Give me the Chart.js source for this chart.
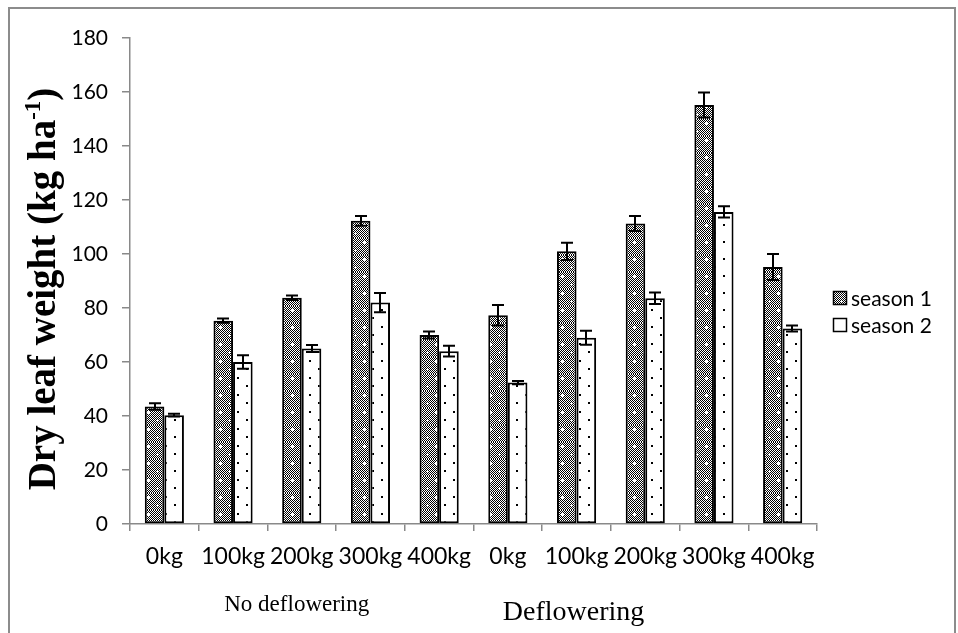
<!DOCTYPE html>
<html>
<head>
<meta charset="utf-8">
<script src="https://cdn.jsdelivr.net/npm/chart.js@4.4.1/dist/chart.umd.min.js"></script>
<style>
  html, body { margin: 0; padding: 0; background: #fff; }
  canvas { display: block; }
</style>
</head>
<body>
<canvas id="chart" width="958" height="633"></canvas>
<script>
// dose labels along the x axis, two treatment groups of five
const categories = ['0kg', '100kg', '200kg', '300kg', '400kg', '0kg', '100kg', '200kg', '300kg', '400kg'];
const groupLabels = ['No deflowering', 'Deflowering'];
const seriesNames = ['season 1', 'season 2'];

const season1 = [43.5, 75.3, 83.8, 112.3, 70, 77.3, 101, 111.3, 155.2, 95.2];
const season1Err = [1.2, 0.8, 0.8, 1.8, 1.3, 3.8, 3.2, 2.8, 4.6, 4.8];
const season2 = [40.3, 60, 65, 82, 64, 52.4, 69, 83.6, 115.6, 72.4];
const season2Err = [0.5, 2.5, 1.3, 3.6, 2.0, 0.6, 2.6, 2.1, 2.1, 1.1];

const yMin = 0, yMax = 180, yStep = 20;

const axisGrey = '#898989';

// fill patterns like the office chart ones
function checkerPattern(ctx) {
    const c = document.createElement('canvas');
    c.width = 18; c.height = 17;
    const p = c.getContext('2d');
    p.fillStyle = '#000';
    p.fillRect(0, 0, 18, 17);
    p.fillStyle = '#fff';
    for (let y = 0; y < 17; y++) {
        for (let x = 0; x < 18; x++) {
            if ((x + y) % 2 === 0) p.fillRect(x, y, 1, 1);
        }
    }
    // small white crosses, staggered
    [[4, 4], [13, 12]].forEach(([cx, cy]) => {
        p.fillRect(cx - 1, cy, 3, 1);
        p.fillRect(cx, cy - 1, 1, 3);
    });
    return ctx.createPattern(c, 'repeat');
}

function dotPattern(ctx) {
    const c = document.createElement('canvas');
    c.width = 18; c.height = 17;
    const p = c.getContext('2d');
    p.fillStyle = '#fff';
    p.fillRect(0, 0, 18, 17);
    p.fillStyle = '#000';
    p.fillRect(3, 3, 2, 2);
    p.fillRect(12, 11, 2, 2);
    return ctx.createPattern(c, 'repeat');
}

const canvas = document.getElementById('chart');
const ctx2d = canvas.getContext('2d');
const fills = [checkerPattern(ctx2d), dotPattern(ctx2d)];
const errs = [season1Err, season2Err];

const errorBars = {
    id: 'errorBars',
    afterDatasetsDraw(chart) {
        const { ctx } = chart;
        const y = chart.scales.y;
        ctx.save();
        ctx.strokeStyle = '#000';
        ctx.lineWidth = 2;
        chart.data.datasets.forEach((ds, di) => {
            const meta = chart.getDatasetMeta(di);
            meta.data.forEach((bar, i) => {
                const v = ds.data[i], e = errs[di][i];
                const top = y.getPixelForValue(v + e);
                const bot = y.getPixelForValue(v - e);
                const x = Math.round(bar.x);
                ctx.beginPath();
                ctx.moveTo(x, top); ctx.lineTo(x, bot);
                ctx.moveTo(x - 6, top); ctx.lineTo(x + 6, top);
                ctx.moveTo(x - 6, bot); ctx.lineTo(x + 6, bot);
                ctx.stroke();
            });
        });
        ctx.restore();
    }
};

const decorations = {
    id: 'decorations',
    afterDraw(chart) {
        const { ctx, chartArea } = chart;
        const x = chart.scales.x;
        ctx.save();

        // outer frame
        ctx.strokeStyle = '#8c8c8c';
        ctx.lineWidth = 2;
        ctx.beginPath();
        ctx.moveTo(9, 633); ctx.lineTo(9, 8); ctx.lineTo(955, 8); ctx.lineTo(955, 633);
        ctx.stroke();

        // y title with superscript
        ctx.save();
        ctx.translate(55, (chartArea.top + chartArea.bottom) / 2 + 8);
        ctx.rotate(-Math.PI / 2);
        ctx.fillStyle = '#000';
        ctx.textBaseline = 'alphabetic';
        const big = 'bold 39px "Liberation Serif", "Times New Roman", serif';
        const small = 'bold 23px "Liberation Serif", "Times New Roman", serif';
        const parts = [['Dry leaf weight (kg ha', big, 0], ['-1', small, -15], [')', big, 0]];
        let total = 0;
        parts.forEach(([t, f]) => { ctx.font = f; total += ctx.measureText(t).width; });
        let cx = -total / 2;
        parts.forEach(([t, f, dy]) => {
            ctx.font = f;
            ctx.fillText(t, cx, dy);
            cx += ctx.measureText(t).width;
        });
        ctx.restore();

        // group labels under the ticks
        ctx.fillStyle = '#000';
        ctx.textAlign = 'center';
        ctx.textBaseline = 'alphabetic';
        ctx.font = '23px "Liberation Serif", "Times New Roman", serif';
        ctx.fillText(groupLabels[0], x.getPixelForValue(2) - 5, 611);
        ctx.font = '28px "Liberation Serif", "Times New Roman", serif';
        ctx.fillText(groupLabels[1], x.getPixelForValue(6) - 3, 620);

        // legend
        const lx = 833;
        const rows = [298, 325];
        ctx.textAlign = 'left';
        ctx.textBaseline = 'middle';
        ctx.font = '21px Lato, sans-serif';
        rows.forEach((cy, i) => {
            ctx.fillStyle = fills[i];
            ctx.fillRect(lx, cy - 7, 14, 14);
            ctx.strokeStyle = '#000';
            ctx.lineWidth = 1.5;
            ctx.strokeRect(lx + 0.5, cy - 6.5, 13, 13);
            ctx.fillStyle = '#000';
            ctx.fillText(seriesNames[i], lx + 18, cy + 1);
        });
        ctx.restore();
    }
};

new Chart(canvas, {
    type: 'bar',
    data: {
        labels: categories,
        datasets: [
            { label: seriesNames[0], data: season1, backgroundColor: fills[0] },
            { label: seriesNames[1], data: season2, backgroundColor: fills[1] }
        ]
    },
    options: {
        responsive: false,
        animation: false,
        events: [],
        layout: { padding: { top: 38, right: 141, left: 0, bottom: 0 } },
        datasets: {
            bar: {
                borderColor: '#000',
                borderWidth: 2,
                borderSkipped: false,
                categoryPercentage: 0.57,
                barPercentage: 1
            }
        },
        plugins: {
            legend: { display: false },
            tooltip: { enabled: false }
        },
        scales: {
            x: {
                grid: { drawOnChartArea: false, tickLength: 7, color: axisGrey, lineWidth: 1.5, offset: true },
                border: { color: axisGrey, width: 1.5 },
                ticks: { color: '#000', font: { family: 'Lato', size: 23 }, padding: 12, maxRotation: 0, autoSkip: false },
                afterFit(s) { s.height = 109; }
            },
            y: {
                min: yMin,
                max: yMax,
                grid: { drawOnChartArea: false, tickLength: 8, color: axisGrey, lineWidth: 1.5 },
                border: { color: axisGrey, width: 1.5 },
                ticks: { stepSize: yStep, color: '#000', font: { family: 'Lato', size: 21 }, padding: 14 },
                afterFit(s) { s.width = 130; }
            }
        }
    },
    plugins: [errorBars, decorations]
});
</script>
</body>
</html>
